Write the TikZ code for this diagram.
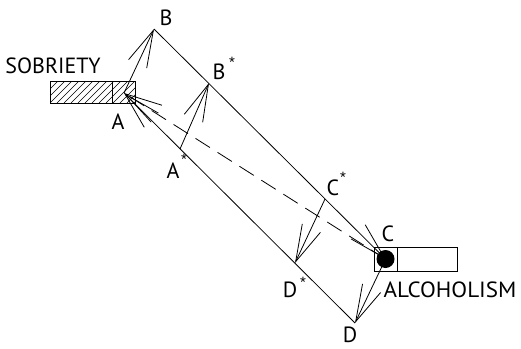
\documentclass[tikz,border=0pt]{standalone}
\usepackage{fontspec}
\setmainfont{PT Sans}
\newfontfamily\starfont{Liberation Sans}
\usetikzlibrary{arrows.meta}
\begin{document}
\begin{tikzpicture}[x=1pt,y=-1pt,
  line width=0.8pt,
  barb/.style={-{Straight Barb[length=37pt,width=20pt]}},
  lbl/.style={font=\fontsize{22}{22}\selectfont, inner sep=0pt},
  star/.style={font=\starfont\fontsize{15}{15}\selectfont, inner sep=0pt, anchor=north},
]
\useasboundingbox (0,0) rectangle (521,348);

% points of the path
\coordinate (A)  at (124,93);
\coordinate (B)  at (154,29);
\coordinate (C)  at (385.5,259);
\coordinate (D)  at (355,323);
\coordinate (As) at (180,149);
\coordinate (Bs) at (209,83);
\coordinate (Cs) at (325,199);
\coordinate (Ds) at (295,263);

% sobriety box with hatching
\begin{scope}
  \clip (50,81) rectangle (135,103);
  \foreach \x in {29,36,...,140} \draw[line width=0.6pt] (\x,103) -- ++(22,-22);
\end{scope}
\draw (50,81) rectangle (135,103);
\draw (112,81) -- (112,103);

% alcoholism box
\draw (374,247) rectangle (457,271);
\draw (397,247) -- (397,271);

% path arrows
\draw[barb] (A) -- (B);
\draw[barb] (B) -- (C);
\draw[barb] (C) -- (D);
\draw[barb] (D) -- (A);
\draw[barb, dash pattern=on 17pt off 9pt] (C) -- (A);
\draw[barb] (As) -- (Bs);
\draw[barb] (Cs) -- (Ds);

\fill (C) circle (9);

% labels
\node[lbl] (lsob) at (53,65.5) {SOBRIETY};
\node[lbl] (lalc) at (450,290) {\scalebox{1.05}[1]{ALCOHOLISM}};
\node[lbl] (lA) at (118,122) {A};
\node[lbl] (lB) at (166,17.5) {B};
\node[lbl] (lC) at (388,234) {C};
\node[lbl] (lD) at (350,334.5) {D};
\node[lbl] (lAs) at (173,170.5) {A};
\node[star] (sAs) at (184,154) {*};
\node[lbl] (lBs) at (219,72) {B};
\node[star] (sBs) at (232,57) {*};
\node[lbl] (lCs) at (333,188) {C};
\node[star] (sCs) at (343,172) {*};
\node[lbl] (lDs) at (290,290) {D};
\node[star] (sDs) at (303,277) {*};
\end{tikzpicture}
\end{document}
